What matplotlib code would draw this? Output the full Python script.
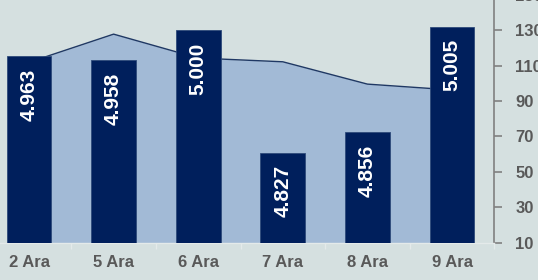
import matplotlib.pyplot as plt
import numpy as np

# Categories and series
categories = ["2 Ara", "5 Ara", "6 Ara", "7 Ara", "8 Ara", "9 Ara"]
bar_values = [4.963, 4.958, 5.000, 4.827, 4.856, 5.005]
bar_labels = ["4.963", "4.958", "5.000", "4.827", "4.856", "5.005"]
area_values = [111.8, 127.7, 114.2, 112.1, 99.5, 96.2]
right_ticks = [10, 30, 50, 70, 90, 110, 130, 150]

BG = "#D5E0E0"
BAR = "#001F5C"
AREA = "#A2BAD6"
EDGE = "#1F3864"
TXT = "#595959"

plt.rcParams["font.family"] = ["Liberation Sans", "DejaVu Sans"]

fig = plt.figure(figsize=(5.38, 2.80), dpi=100, facecolor=BG)
ax = fig.add_axes([-0.0247, 0.1332, 0.9435, 0.886])
ax.set_facecolor(BG)

# bars on hidden secondary scale (twin made first, so it does not move the ticks later)
ax2 = ax.twinx()

x = np.arange(len(categories))

# area on right-hand scale
ax.fill_between(x, 10, area_values, color=AREA, zorder=1, linewidth=0)
ax.plot(x, area_values, color=EDGE, linewidth=1.0, zorder=2)
ax.set_ylim(10, 150)
ax.set_xlim(-0.5, len(categories) - 0.5)
ax.yaxis.tick_right()
ax.yaxis.set_label_position("right")
ax.set_yticks(right_ticks)
ax.tick_params(axis="y", direction="out", length=6, color="#808080", width=1.2,
               labelsize=12, labelcolor=TXT, pad=9, left=False, labelleft=False,
               right=True, labelright=True)
for lab in ax.get_yticklabels():
    lab.set_fontweight("bold")

ax.set_xticks(x)
ax.set_xticklabels(categories, fontsize=12, fontweight="bold", color=TXT)
ax.tick_params(axis="x", length=0, pad=9)
ax.set_xticks(np.arange(len(categories) + 1) - 0.5, minor=True)
ax.tick_params(axis="x", which="minor", length=4, color="#E4EAEA", width=1)

for side in ["top", "left"]:
    ax.spines[side].set_visible(False)
ax.spines["right"].set_color("#808080")
ax.spines["right"].set_linewidth(1.2)
ax.spines["bottom"].set_color("#E4EAEA")
ax.spines["bottom"].set_linewidth(1.0)

ax2.set_ylim(4.70, 5.05)
ax2.bar(x, np.array(bar_values) - 4.70, bottom=4.70, width=0.53, color=BAR,
        edgecolor="#2E4A7A", linewidth=0.6, zorder=3)
ax2.set_yticks([])
ax2.tick_params(axis="y", left=False, right=False, labelleft=False, labelright=False)
for side in ["top", "left", "right", "bottom"]:
    ax2.spines[side].set_visible(False)

for xi, v, lab in zip(x, bar_values, bar_labels):
    ax2.annotate(lab, (xi, v), xytext=(0, -9), textcoords="offset points",
                 rotation=90, ha="center", va="top", color="white",
                 fontsize=15, fontweight="bold", zorder=4)

fig.savefig("out.png", dpi=100, facecolor=BG)
